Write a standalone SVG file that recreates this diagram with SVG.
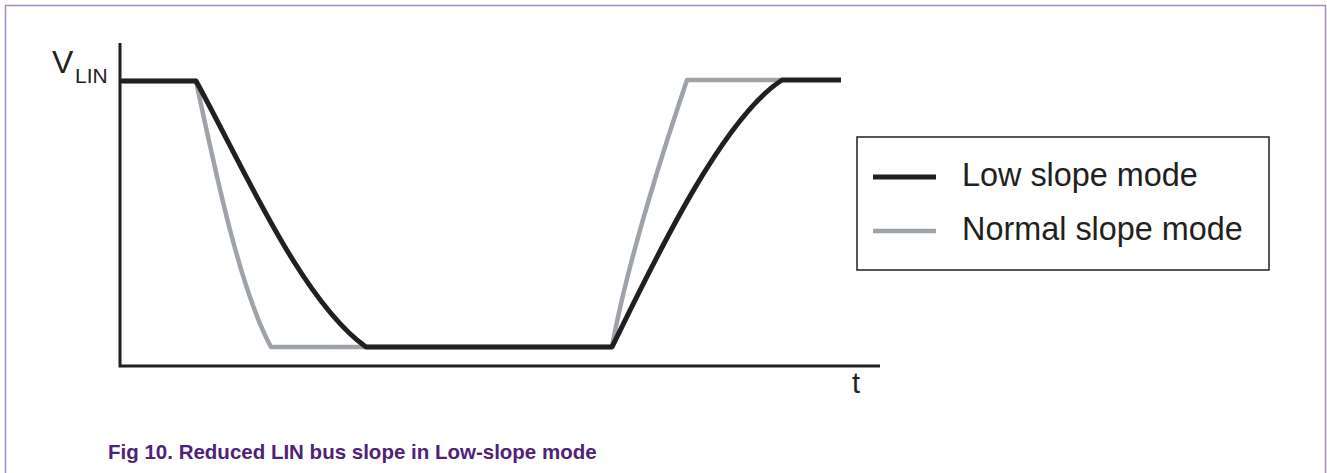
<svg xmlns="http://www.w3.org/2000/svg" width="1327" height="473" viewBox="0 0 1327 473">
<style>
.txt{font-family:"Liberation Sans",Arial,sans-serif;fill:#231f20}
.low{fill:none;stroke:#231f20;stroke-width:5;stroke-linejoin:round}
.norm{fill:none;stroke:#9ea3aa;stroke-width:4.5;stroke-linejoin:round}
.axis{fill:none;stroke:#231f20;stroke-width:3}
.cap{font-family:"Liberation Sans",Arial,sans-serif;font-weight:bold;fill:#4e2279}
</style>
<rect width="1327" height="473" fill="#ffffff"/>
<path d="M5.5,473 V5.5 H1325.5 V473" fill="none" stroke="#a58cc0" stroke-width="1.5"/>
<g id="axes">
<path class="axis" d="M120,43 V366 H880"/>
<text class="txt" x="52" y="73" font-size="32">V</text>
<text class="txt" x="75" y="83" font-size="21">LIN</text>
<text class="txt" x="852" y="393" font-size="29">t</text>
</g>
<g id="connectors">
<path id="normal-curve" class="norm" d="M120,81 H196 C215,170 240,290 271,347 H612 C626,270 660,160 687,80 H782"/>
<path id="low-curve" class="low" d="M120,81 H196 C240,160 300,300 366,347 H612 C650,270 720,120 782,80 H841"/>
</g>
<g id="legend">
<rect x="857" y="137" width="412" height="133" fill="#ffffff" stroke="#231f20" stroke-width="1.5"/>
<line x1="873" y1="177" x2="936" y2="177" stroke="#231f20" stroke-width="5"/>
<line x1="873" y1="231" x2="936" y2="231" stroke="#9ea3aa" stroke-width="4.5"/>
<text class="txt" x="962" y="186" font-size="32.4">Low slope mode</text>
<text class="txt" x="962" y="240" font-size="32.4">Normal slope mode</text>
</g>
<text class="cap" x="108" y="459" font-size="20.5">Fig 10. Reduced LIN bus slope in Low-slope mode</text>
</svg>
